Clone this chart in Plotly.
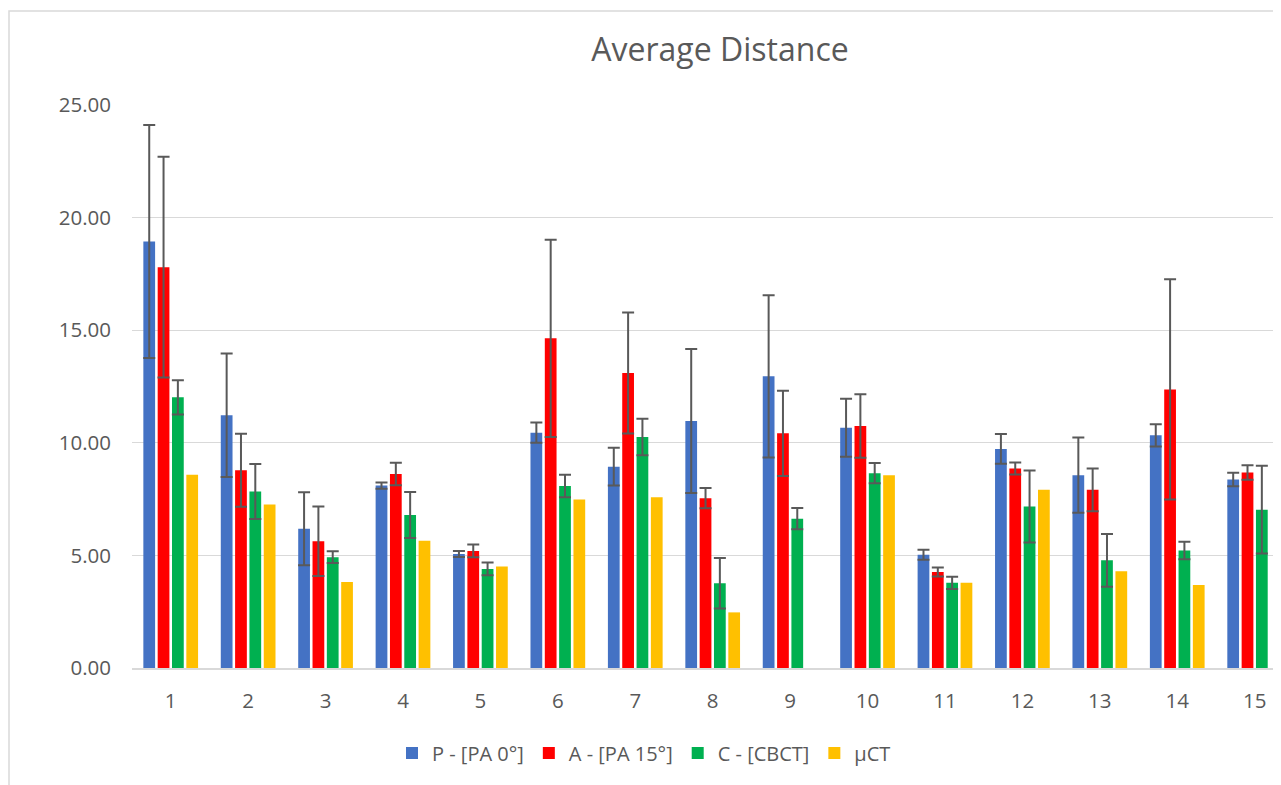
import plotly.graph_objects as go

categories = [str(i) for i in range(1, 16)]

p_vals = [18.94, 11.22, 6.18, 8.10, 5.06, 10.45, 8.94, 10.97, 12.95, 10.67, 5.03, 9.73, 8.56, 10.33, 8.37]
p_err = [5.17, 2.74, 1.62, 0.14, 0.13, 0.45, 0.84, 3.20, 3.60, 1.29, 0.22, 0.66, 1.67, 0.49, 0.30]
a_vals = [17.80, 8.78, 5.63, 8.61, 5.20, 14.64, 13.10, 7.54, 10.42, 10.75, 4.26, 8.86, 7.91, 12.37, 8.68]
a_err = [4.90, 1.62, 1.54, 0.50, 0.28, 4.38, 2.69, 0.45, 1.89, 1.41, 0.20, 0.27, 0.95, 4.89, 0.32]
c_vals = [12.02, 7.84, 4.92, 6.79, 4.40, 8.08, 10.26, 3.76, 6.63, 8.65, 3.78, 7.17, 4.78, 5.22, 7.03]
c_err = [0.76, 1.22, 0.26, 1.02, 0.28, 0.50, 0.81, 1.12, 0.47, 0.45, 0.27, 1.60, 1.17, 0.39, 1.95]
u_vals = [8.58, 7.26, 3.82, 5.65, 4.51, 7.48, 7.58, 2.47, None, 8.56, 3.78, 7.92, 4.30, 3.69, None]

series_names = ["P - [PA 0°]", "A - [PA 15°]", "C - [CBCT]", "µCT"]
colors = ["#4472C4", "#FF0000", "#00B050", "#FFC000"]

FONT = "Open Sans, Noto Sans, sans-serif"
TXT = "#595959"

# page body has an 8px margin; figure is sized/offset to compensate
OFF = 8
W, H = 1281 - OFF, 785 - OFF
L, T = 132 - OFF, 105 - OFF
B = 785 - 668
PW = W - L
PH = H - T - B

x_num = list(range(1, 16))

fig = go.Figure()
series = [(p_vals, p_err), (a_vals, a_err), (c_vals, c_err), (u_vals, None)]
for (vals, err), name, col in zip(series, series_names, colors):
    kw = {}
    if err is not None:
        kw["error_y"] = dict(type="data", array=err, visible=True,
                             color="#595959", thickness=2, width=6)
    fig.add_trace(go.Bar(x=x_num, y=vals, name=name, marker_color=col,
                         marker_line_width=0, **kw))

fig.update_layout(
    width=W, height=H,
    paper_bgcolor="white", plot_bgcolor="white",
    margin=dict(l=L, r=0, t=T, b=B),
    barmode="group", bargap=0.26, bargroupgap=0.18,
    font=dict(family=FONT, color=TXT, size=20.5),
    title=dict(text="Average Distance", font=dict(family=FONT, size=32, color=TXT),
               x=(720 - OFF) / W, xref="container", xanchor="center",
               y=1 - (50 - OFF) / H, yref="container", yanchor="middle"),
    legend=dict(orientation="h", xref="container", yref="container",
                x=(644 - OFF) / W, xanchor="center", y=1 - (753 - OFF) / H, yanchor="middle",
                font=dict(family=FONT, size=20, color=TXT), traceorder="normal"),
    xaxis=dict(range=[0.5, 15.34], tickmode="array", tickvals=x_num, ticktext=categories,
               showgrid=False, showline=True, linecolor="#d9d9d9", linewidth=1.5,
               ticks="", ticklabelstandoff=14, tickfont=dict(size=20.5, color=TXT),
               zeroline=False),
    yaxis=dict(range=[0, 25], tickvals=[0, 5, 10, 15, 20, 25], tickformat=".2f",
               showgrid=True, gridcolor="#d9d9d9", gridwidth=1.2, zeroline=False,
               showline=False, ticks="", ticklabelstandoff=20,
               tickfont=dict(size=20.5, color=TXT)),
    shapes=[dict(type="rect", xref="paper", yref="paper",
                 x0=(9 - 132) / PW, x1=1.05, y0=-0.5, y1=(668 - 11) / PH,
                 line=dict(color="#d9d9d9", width=1.5), fillcolor="rgba(0,0,0,0)",
                 layer="below")],
)

fig.write_html("out.html")
